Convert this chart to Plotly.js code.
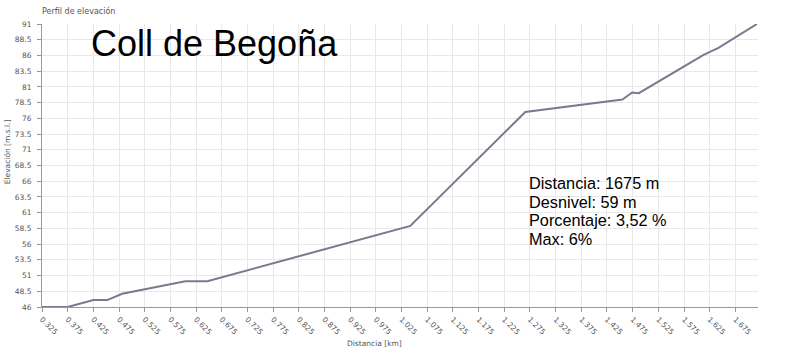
<!DOCTYPE html>
<html>
<head>
<meta charset="utf-8">
<script src="https://cdn.plot.ly/plotly-3.0.1.min.js"></script>
<style>html,body{margin:0;padding:0;background:#fff;}#chart{width:799px;height:361px;}</style>
</head>
<body>
<div id="chart"></div>
<script>
// Distance along the climb (km) and elevation (m)
var distanceKm = [0.325, 0.375, 0.425, 0.452, 0.481, 0.604, 0.647, 1.042, 1.266, 1.455, 1.474, 1.487, 1.613, 1.642, 1.717];
var elevationM = [46.0, 46.0, 47.1, 47.1, 48.1, 50.1, 50.1, 58.9, 77.0, 79.0, 80.1, 80.0, 86.1, 87.2, 91.0];

var xTickVals = [0.325,0.375,0.425,0.475,0.525,0.575,0.625,0.675,0.725,0.775,0.825,0.875,0.925,0.975,1.025,1.075,1.125,1.175,1.225,1.275,1.325,1.375,1.425,1.475,1.525,1.575,1.625,1.675];
var xTickText = ["0.325","0.375","0.425","0.475","0.525","0.575","0.625","0.675","0.725","0.775","0.825","0.875","0.925","0.975","1.025","1.075","1.125","1.175","1.225","1.275","1.325","1.375","1.425","1.475","1.525","1.575","1.625","1.675"];
var yTickVals = [46,48.5,51,53.5,56,58.5,61,63.5,66,68.5,71,73.5,76,78.5,81,83.5,86,88.5,91];
var yTickText = ["46","48.5","51","53.5","56","58.5","61","63.5","66","68.5","71","73.5","76","78.5","81","83.5","86","88.5","91"];

var chartTitle = "Perfil de elevación";
var climbName = "Coll de Begoña";
var statsLines = ["Distancia: 1675 m", "Desnivel: 59 m", "Porcentaje: 3,52 %", "Max: 6%"];
var xTitle = "Distancia [km]";
var yTitle = "Elevación [m.s.l.]";

var L = 41.7, R = 757.7, T = 24, B = 307;
function px(x){ return (x - L) / (R - L); }
function py(y){ return (B - y) / (B - T); }

var small = {family: "DejaVu Sans, sans-serif", size: 7.5, color: "#555"};

var annotations = [
  {text: chartTitle, xref: "paper", yref: "paper", x: px(40), y: py(11), xanchor: "left", yanchor: "middle", showarrow: false, font: {family: "DejaVu Sans, sans-serif", size: 8, color: "#555"}},
  {text: climbName, xref: "paper", yref: "paper", x: px(89), y: py(44), xanchor: "left", yanchor: "middle", showarrow: false, font: {family: "Liberation Sans, Arial, sans-serif", size: 36, color: "#000"}},
  {text: xTitle, xref: "paper", yref: "paper", x: px(374), y: py(343), xanchor: "center", yanchor: "middle", showarrow: false, font: small},
  {text: yTitle, xref: "paper", yref: "paper", x: px(7), y: py(152), xanchor: "center", yanchor: "middle", textangle: -90, showarrow: false, font: small}
];
var statsTop = [183, 201.5, 220, 238.5];
for (var i = 0; i < statsLines.length; i++) {
  annotations.push({text: statsLines[i], xref: "paper", yref: "paper", x: px(527), y: py(statsTop[i]), xanchor: "left", yanchor: "middle", showarrow: false, font: {family: "Liberation Sans, Arial, sans-serif", size: 16.3, color: "#000"}});
}

var trace = {
  x: distanceKm, y: elevationM, type: "scatter", mode: "lines",
  line: {color: "#7a798d", width: 2}, hoverinfo: "x+y"
};

var layout = {
  width: 799, height: 361,
  margin: {l: L, r: 799 - R, t: T, b: 361 - B, pad: 0},
  paper_bgcolor: "#fff", plot_bgcolor: "#fff",
  showlegend: false,
  xaxis: {
    range: [0.325, 1.719], tickmode: "array", tickvals: xTickVals, ticktext: xTickText,
    tickangle: 45, tickfont: small, ticks: "outside", ticklen: 4, tickcolor: "#999",
    showline: true, linecolor: "#9a9a9a", linewidth: 1,
    showgrid: true, gridcolor: "#e8e8e8", gridwidth: 1, zeroline: false, fixedrange: true
  },
  yaxis: {
    range: [46, 91], tickmode: "array", tickvals: yTickVals, ticktext: yTickText,
    tickfont: small, ticks: "outside", ticklen: 4, tickcolor: "#999", ticklabelstandoff: 4,
    showline: true, linecolor: "#9a9a9a", linewidth: 1,
    showgrid: true, gridcolor: "#e8e8e8", gridwidth: 1, zeroline: false, fixedrange: true
  },
  annotations: annotations
};

Plotly.newPlot("chart", [trace], layout, {displayModeBar: false, staticPlot: true});
</script>
</body>
</html>
